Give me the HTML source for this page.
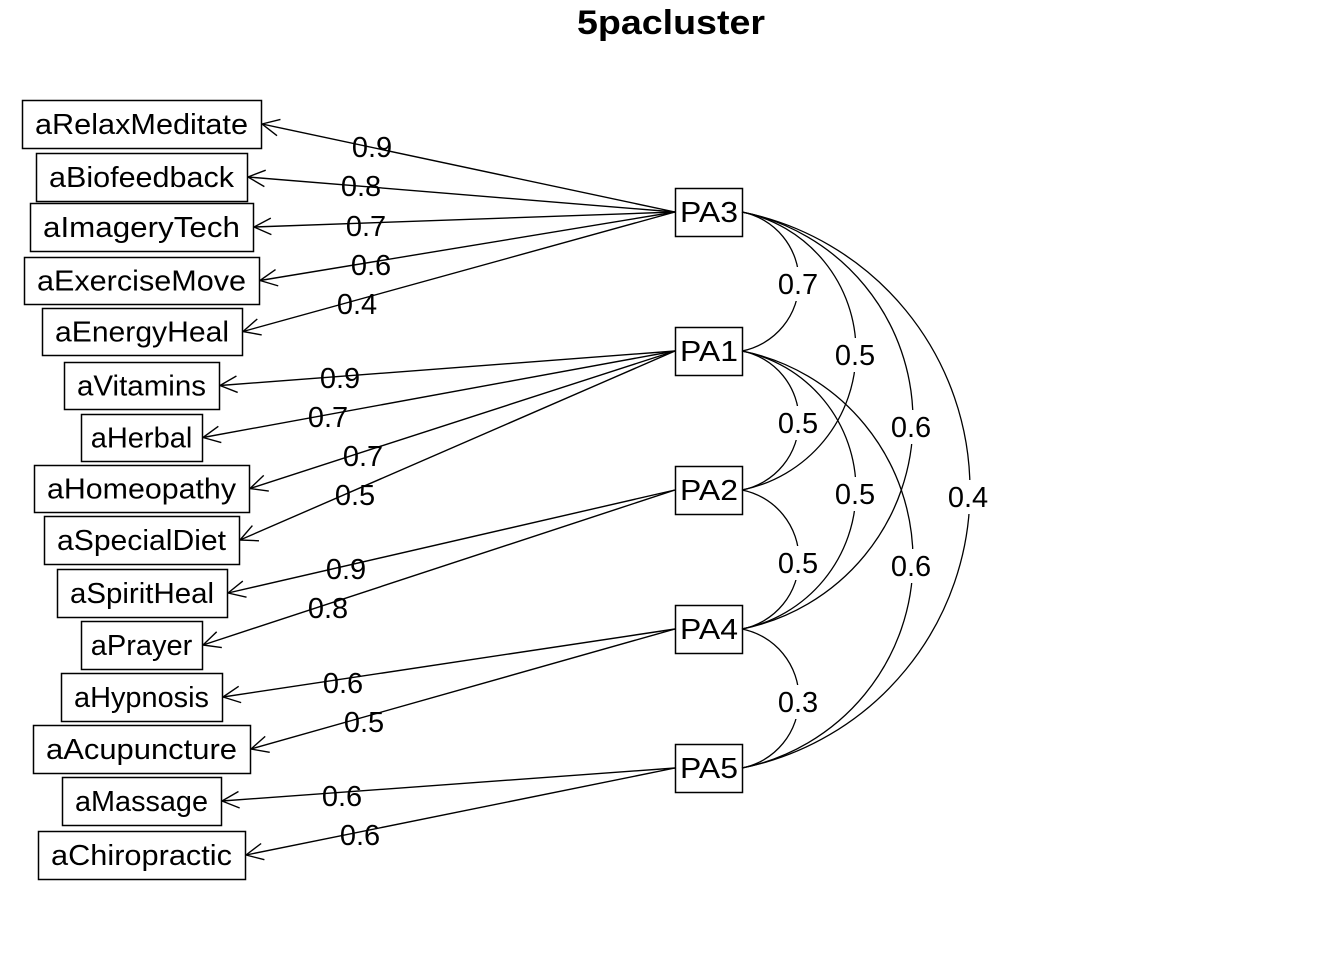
<!DOCTYPE html>
<html><head><meta charset="utf-8"><style>
html,body{margin:0;padding:0;background:#fff;}
svg{display:block;font-family:"Liberation Sans",Arial,sans-serif;}
</style></head><body>
<svg id="s" width="1344" height="960" xmlns="http://www.w3.org/2000/svg">
<text x="671" y="34" text-anchor="middle" font-size="34" font-weight="bold" textLength="188" lengthAdjust="spacingAndGlyphs">5pacluster</text>
</svg>
<script>
const s=document.getElementById('s');const NS="http://www.w3.org/2000/svg";
function el(t,a,txt){const e=document.createElementNS(NS,t);for(const k in a)e.setAttribute(k,a[k]);if(txt!==undefined)e.textContent=txt;s.appendChild(e);return e;}
const vars=[["aRelaxMeditate",22,261,100,148],["aBiofeedback",36,247,153,201],["aImageryTech",30,253,203,251],["aExerciseMove",24,259,257,304],["aEnergyHeal",42,242,308,355],["aVitamins",64,219,362,409],["aHerbal",81,202,414,461],["aHomeopathy",34,249,465,512],["aSpecialDiet",44,239,516,564],["aSpiritHeal",57,227,569,617],["aPrayer",81,202,621,669],["aHypnosis",61,222,673,721],["aAcupuncture",33,250,725,773],["aMassage",62,221,777,825],["aChiropractic",38,245,831,879]];
const pa={PA3:212,PA1:351,PA2:490,PA4:629,PA5:768};
const links=[["PA3",0,"0.9",372,147],["PA3",1,"0.8",361,186],["PA3",2,"0.7",366,226],["PA3",3,"0.6",371,265],["PA3",4,"0.4",357,304],["PA1",5,"0.9",340,378],["PA1",6,"0.7",328,417],["PA1",7,"0.7",363,456],["PA1",8,"0.5",355,495],["PA2",9,"0.9",346,569],["PA2",10,"0.8",328,608],["PA4",11,"0.6",343,683],["PA4",12,"0.5",364,722],["PA5",13,"0.6",342,796],["PA5",14,"0.6",360,835]];
for(const v of vars){el('rect',{x:v[1]+0.5,y:v[3]+0.5,width:v[2]-v[1],height:v[4]-v[3],fill:'#fff',stroke:'#000','stroke-width':1.5});
const a={x:(v[1]+v[2])/2,y:(v[3]+v[4])/2+10,'text-anchor':'middle','font-size':29};
if(v[2]-v[1]>150){a.textLength=v[2]-v[1]-26;a.lengthAdjust='spacingAndGlyphs';}
el('text',a,v[0]);}
for(const k in pa){const y=pa[k];el('rect',{x:675.5,y:y-24+0.5,width:67,height:48,fill:'#fff',stroke:'#000','stroke-width':1.5});
el('text',{x:709,y:y+10,'text-anchor':'middle','font-size':29,textLength:58,lengthAdjust:'spacingAndGlyphs'},k);}
for(const l of links){const v=vars[l[1]];const x1=675,y1=pa[l[0]],x2=v[2]+1,y2=(v[3]+v[4])/2;
el('line',{x1,y1,x2,y2,stroke:'#000','stroke-width':1.4});
const a=Math.atan2(y1-y2,x1-x2);const L=19;
for(const d of [0.45,-0.45]){el('line',{x1:x2,y1:y2,x2:x2+L*Math.cos(a+d),y2:y2+L*Math.sin(a+d),stroke:'#000','stroke-width':1.4});}
el('text',{x:l[3],y:l[4]+10,'text-anchor':'middle','font-size':29},l[2]);}
const order=["PA3","PA1","PA2","PA4","PA5"];
const cors=[["PA3","PA1","0.7",798,284],["PA3","PA2","0.5",855,355],["PA3","PA4","0.6",911,427],["PA3","PA5","0.4",968,497],["PA1","PA2","0.5",798,423],["PA1","PA4","0.5",855,494],["PA1","PA5","0.6",911,566],["PA2","PA4","0.5",798,563],["PA4","PA5","0.3",798,702]];
for(const c of cors){const y1=pa[c[0]],y2=pa[c[1]];const d=order.indexOf(c[1])-order.indexOf(c[0]);const h=57*d;const ch=(y2-y1)/2;const r=(ch*ch+h*h)/(2*h);
el('path',{d:`M742,${y1} A${r},${r} 0 0 1 742,${y2}`,fill:'none',stroke:'#000','stroke-width':1.3});}
for(const c of cors){el('rect',{x:c[3]-22,y:c[4]-17,width:44,height:34,fill:'#fff'});
el('text',{x:c[3],y:c[4]+10,'text-anchor':'middle','font-size':29},c[2]);}
</script>
</body></html>
